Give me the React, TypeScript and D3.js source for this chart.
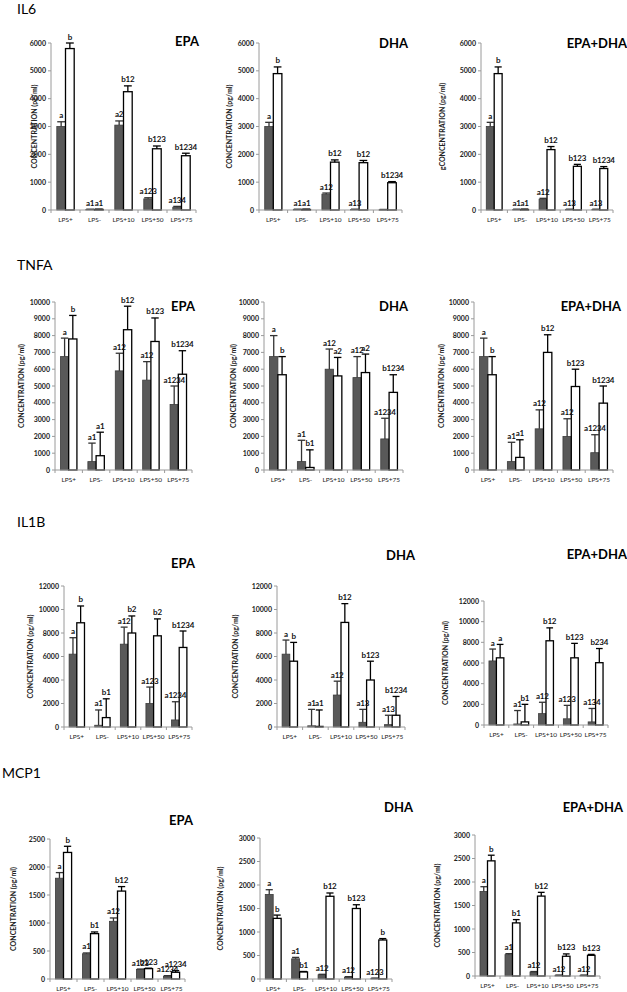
import React from "react";
import * as d3 from "d3";

// ---------- DATA ----------
const categories = ["LPS+", "LPS-", "LPS+10", "LPS+50", "LPS+75"];
const rowTitles = ["IL6", "TNFA", "IL1B", "MCP1"];
const treatmentTitles = ["EPA", "DHA", "EPA+DHA"];
const yLabelText = "CONCENTRATION (pg/ml)";
const yLabelTypo = "gCONCENTRATION (pg/ml)";

const il6Ticks = [0, 1000, 2000, 3000, 4000, 5000, 6000];
const tnfaTicks = [0, 1000, 2000, 3000, 4000, 5000, 6000, 7000, 8000, 9000, 10000];
const il1bTicks = [0, 2000, 4000, 6000, 8000, 10000, 12000];
const mcp1EpaTicks = [0, 500, 1000, 1500, 2000, 2500];
const mcp1Ticks = [0, 500, 1000, 1500, 2000, 2500, 3000];

// IL6
const il6EpaGrey = [3000, 20, 3050, 400, 100];
const il6EpaGreyErr = [170, 10, 150, 40, 30];
const il6EpaWhite = [5800, 20, 4250, 2200, 1950];
const il6EpaWhiteErr = [200, 10, 210, 100, 90];
const il6EpaGreyLbl = ["a", "a1", "a2", "a123", "a134"];
const il6EpaWhiteLbl = ["b", "a1", "b12", "b123", "b1234"];

const il6DhaGrey = [3000, 20, 570, 20, 10];
const il6DhaGreyErr = [150, 10, 40, 10, 10];
const il6DhaWhite = [4900, 20, 1720, 1700, 980];
const il6DhaWhiteErr = [240, 10, 80, 80, 40];
const il6DhaGreyLbl = ["a", "a1", "a12", "a13", ""];
const il6DhaWhiteLbl = ["b", "a1", "b12", "b12", "b1234"];

const il6MixGrey = [3000, 20, 390, 20, 20];
const il6MixGreyErr = [150, 10, 30, 10, 10];
const il6MixWhite = [4900, 20, 2170, 1570, 1490];
const il6MixWhiteErr = [240, 10, 110, 70, 70];
const il6MixGreyLbl = ["a", "a1", "a12", "a13", "a13"];
const il6MixWhiteLbl = ["b", "a1", "b12", "b123", "b1234"];

// TNFA
const tnfaEpaGrey = [6750, 500, 5900, 5350, 3900];
const tnfaEpaGreyErr = [1100, 1100, 1050, 1100, 1100];
const tnfaEpaWhite = [7800, 850, 8350, 7650, 5700];
const tnfaEpaWhiteErr = [1400, 1400, 1400, 1400, 1400];
const tnfaEpaGreyLbl = ["a", "a1", "a12", "a12", "a1234"];
const tnfaEpaWhiteLbl = ["b", "a1", "b12", "b123", "b1234"];

const tnfaDhaGrey = [6750, 500, 6000, 5500, 1850];
const tnfaDhaGreyErr = [1250, 1270, 1200, 1250, 1230];
const tnfaDhaWhite = [5670, 150, 5600, 5800, 4620];
const tnfaDhaWhiteErr = [1080, 1050, 1100, 1100, 1050];
const tnfaDhaGreyLbl = ["a", "a1", "a12", "a12", "a1234"];
const tnfaDhaWhiteLbl = ["b", "b1", "a2", "a2", "b1234"];

const tnfaMixGrey = [6750, 500, 2450, 2000, 1030];
const tnfaMixGreyErr = [1100, 1150, 1130, 1050, 1070];
const tnfaMixWhite = [5670, 750, 7000, 4970, 3980];
const tnfaMixWhiteErr = [1080, 1050, 1050, 1030, 1020];
const tnfaMixGreyLbl = ["a", "a1", "a12", "a12", "a1234"];
const tnfaMixWhiteLbl = ["b", "a1", "b12", "b123", "b1234"];

// IL1B
const il1bEpaGrey = [6200, 150, 7050, 2000, 600];
const il1bEpaGreyErr = [1400, 1300, 1450, 1400, 1550];
const il1bEpaWhite = [8870, 800, 8000, 7760, 6770];
const il1bEpaWhiteErr = [1430, 1600, 1450, 1440, 1400];
const il1bEpaGreyLbl = ["a", "a1", "a12", "a123", "a1234"];
const il1bEpaWhiteLbl = ["b", "b1", "b2", "b2", "b1234"];

const il1bDhaGrey = [6200, 100, 2720, 400, 200];
const il1bDhaGreyErr = [1200, 1400, 1180, 1100, 800];
const il1bDhaWhite = [5600, 50, 8900, 4000, 1000];
const il1bDhaWhiteErr = [1600, 1400, 1600, 1600, 1600];
const il1bDhaGreyLbl = ["a", "a1", "a12", "a13", "a13"];
const il1bDhaWhiteLbl = ["b", "a1", "b12", "b123", "b1234"];

const il1bMixGrey = [6200, 100, 1100, 600, 300];
const il1bMixGreyErr = [1150, 1300, 1100, 1300, 1300];
const il1bMixWhite = [6500, 300, 8150, 6500, 6030];
const il1bMixWhiteErr = [1300, 1700, 1250, 1400, 1370];
const il1bMixGreyLbl = ["a", "a1", "a12", "a123", "a134"];
const il1bMixWhiteLbl = ["a", "b1", "b12", "b123", "b234"];

// MCP1
const mcp1EpaGrey = [1800, 450, 1030, 170, 50];
const mcp1EpaGreyErr = [100, 15, 60, 8, 10];
const mcp1EpaWhite = [2260, 810, 1570, 185, 120];
const mcp1EpaWhiteErr = [110, 30, 80, 8, 30];
const mcp1EpaGreyLbl = ["a", "a1", "a12", "a123", "a1234"];
const mcp1EpaWhiteLbl = ["b", "b1", "b12", "b123", "a1234"];

const mcp1DhaGrey = [1800, 430, 90, 40, 15];
const mcp1DhaGreyErr = [100, 30, 10, 10, 5];
const mcp1DhaWhite = [1290, 150, 1760, 1500, 830];
const mcp1DhaWhiteErr = [70, 10, 70, 80, 30];
const mcp1DhaGreyLbl = ["a", "a1", "a12", "a12", "a123"];
const mcp1DhaWhiteLbl = ["b", "b1", "b12", "b123", "b"];

const mcp1MixGrey = [1800, 455, 85, 15, 15];
const mcp1MixGreyErr = [100, 20, 10, 5, 5];
const mcp1MixWhite = [2450, 1130, 1700, 420, 440];
const mcp1MixWhiteErr = [120, 70, 80, 50, 20];
const mcp1MixGreyLbl = ["a", "a1", "a12", "a12", "a12"];
const mcp1MixWhiteLbl = ["b", "b1", "b12", "b123", "b123"];

// ---------- PANEL TABLE (built from the arrays) ----------
const panelData = [
  { row: 0, col: 0, ticks: il6Ticks, grey: il6EpaGrey, greyErr: il6EpaGreyErr, white: il6EpaWhite, whiteErr: il6EpaWhiteErr, greyLbl: il6EpaGreyLbl, whiteLbl: il6EpaWhiteLbl, ylab: yLabelText },
  { row: 0, col: 1, ticks: il6Ticks, grey: il6DhaGrey, greyErr: il6DhaGreyErr, white: il6DhaWhite, whiteErr: il6DhaWhiteErr, greyLbl: il6DhaGreyLbl, whiteLbl: il6DhaWhiteLbl, ylab: yLabelText },
  { row: 0, col: 2, ticks: il6Ticks, grey: il6MixGrey, greyErr: il6MixGreyErr, white: il6MixWhite, whiteErr: il6MixWhiteErr, greyLbl: il6MixGreyLbl, whiteLbl: il6MixWhiteLbl, ylab: yLabelTypo },
  { row: 1, col: 0, ticks: tnfaTicks, grey: tnfaEpaGrey, greyErr: tnfaEpaGreyErr, white: tnfaEpaWhite, whiteErr: tnfaEpaWhiteErr, greyLbl: tnfaEpaGreyLbl, whiteLbl: tnfaEpaWhiteLbl, ylab: yLabelText },
  { row: 1, col: 1, ticks: tnfaTicks, grey: tnfaDhaGrey, greyErr: tnfaDhaGreyErr, white: tnfaDhaWhite, whiteErr: tnfaDhaWhiteErr, greyLbl: tnfaDhaGreyLbl, whiteLbl: tnfaDhaWhiteLbl, ylab: yLabelText },
  { row: 1, col: 2, ticks: tnfaTicks, grey: tnfaMixGrey, greyErr: tnfaMixGreyErr, white: tnfaMixWhite, whiteErr: tnfaMixWhiteErr, greyLbl: tnfaMixGreyLbl, whiteLbl: tnfaMixWhiteLbl, ylab: yLabelText },
  { row: 2, col: 0, ticks: il1bTicks, grey: il1bEpaGrey, greyErr: il1bEpaGreyErr, white: il1bEpaWhite, whiteErr: il1bEpaWhiteErr, greyLbl: il1bEpaGreyLbl, whiteLbl: il1bEpaWhiteLbl, ylab: yLabelText },
  { row: 2, col: 1, ticks: il1bTicks, grey: il1bDhaGrey, greyErr: il1bDhaGreyErr, white: il1bDhaWhite, whiteErr: il1bDhaWhiteErr, greyLbl: il1bDhaGreyLbl, whiteLbl: il1bDhaWhiteLbl, ylab: yLabelText },
  { row: 2, col: 2, ticks: il1bTicks, grey: il1bMixGrey, greyErr: il1bMixGreyErr, white: il1bMixWhite, whiteErr: il1bMixWhiteErr, greyLbl: il1bMixGreyLbl, whiteLbl: il1bMixWhiteLbl, ylab: yLabelText },
  { row: 3, col: 0, ticks: mcp1EpaTicks, grey: mcp1EpaGrey, greyErr: mcp1EpaGreyErr, white: mcp1EpaWhite, whiteErr: mcp1EpaWhiteErr, greyLbl: mcp1EpaGreyLbl, whiteLbl: mcp1EpaWhiteLbl, ylab: yLabelText },
  { row: 3, col: 1, ticks: mcp1Ticks, grey: mcp1DhaGrey, greyErr: mcp1DhaGreyErr, white: mcp1DhaWhite, whiteErr: mcp1DhaWhiteErr, greyLbl: mcp1DhaGreyLbl, whiteLbl: mcp1DhaWhiteLbl, ylab: yLabelText },
  { row: 3, col: 2, ticks: mcp1Ticks, grey: mcp1MixGrey, greyErr: mcp1MixGreyErr, white: mcp1MixWhite, whiteErr: mcp1MixWhiteErr, greyLbl: mcp1MixGreyLbl, whiteLbl: mcp1MixWhiteLbl, ylab: yLabelText },
];

// ---------- LAYOUT (pixel frames, same order as panelData) ----------
const frames = [
  { x0: 51, x1: 196, y0: 210, yTop: 43, tx: 199, ty: 46, lx: 34 },
  { x0: 259, x1: 402, y0: 210, yTop: 43, tx: 408, ty: 48, lx: 229 },
  { x0: 481, x1: 613, y0: 210, yTop: 43, tx: 627, ty: 48, lx: 442 },
  { x0: 55, x1: 192, y0: 470, yTop: 302, tx: 195, ty: 311, lx: 21 },
  { x0: 264, x1: 403, y0: 470, yTop: 302, tx: 408, ty: 311, lx: 233 },
  { x0: 474, x1: 613, y0: 470, yTop: 302, tx: 621, ty: 311, lx: 441 },
  { x0: 64, x1: 192, y0: 727, yTop: 586, tx: 195, ty: 568, lx: 30 },
  { x0: 277, x1: 405, y0: 727, yTop: 586, tx: 415, ty: 560, lx: 235 },
  { x0: 484, x1: 608, y0: 725, yTop: 601, tx: 627, ty: 559, lx: 445 },
  { x0: 50, x1: 185, y0: 979, yTop: 839, tx: 193, ty: 825, lx: 13 },
  { x0: 260, x1: 392, y0: 979, yTop: 838, tx: 413, ty: 812, lx: 220 },
  { x0: 475, x1: 600, y0: 976, yTop: 835, tx: 623, ty: 812, lx: 437 },
];
const rowTitlePos = [
  { x: 17, y: 14 },
  { x: 17, y: 270 },
  { x: 17, y: 527 },
  { x: 2, y: 778 },
];

const FONT = "Lato, 'Open Sans', Arial, sans-serif";
const AXIS = "#9a9a9a";
const GREY = "#595959";

function Panel({ d, f }: any) {
  const max = d.ticks[d.ticks.length - 1];
  const x = d3.scaleBand<string>().domain(categories).range([f.x0, f.x1]);
  const bw = x.bandwidth();
  const sub = d3.scaleBand<string>().domain(["grey", "white"]).range([bw * 0.2, bw * 0.8]);
  const sw = sub.bandwidth();
  const y = d3.scaleLinear().domain([0, max]).range([f.y0, f.yTop]);
  const series = [
    { key: "grey", vals: d.grey, errs: d.greyErr, lbls: d.greyLbl, fill: GREY, stroke: "#3c3c3c", err: "#333" },
    { key: "white", vals: d.white, errs: d.whiteErr, lbls: d.whiteLbl, fill: "#ffffff", stroke: "#000", err: "#000" },
  ];
  const midY = (f.y0 + f.yTop) / 2;
  const geo = (s: any, c: string, i: number) => {
    const bx = (x(c) as number) + (sub(s.key) as number);
    const v = s.vals[i];
    return { bx, top: y(v), et: y(v + s.errs[i]), cx: bx + sw / 2 };
  };
  return (
    <g>
      {/* y axis */}
      <line x1={f.x0} x2={f.x0} y1={f.yTop} y2={f.y0} stroke={AXIS} strokeWidth={1} />
      {d.ticks.map((t: number) => (
        <g key={t}>
          <line x1={f.x0 - 3} x2={f.x0} y1={y(t)} y2={y(t)} stroke={AXIS} />
          <text x={f.x0 - 5} y={y(t) + 2.5} fontSize={7} fontWeight="bold" textAnchor="end" fontFamily={FONT} fill="#222">
            {t}
          </text>
        </g>
      ))}
      <text
        transform={`translate(${f.lx + 2.5},${midY}) rotate(-90)`}
        fontSize={7}
        fontWeight="bold"
        textAnchor="middle"
        fontFamily={FONT}
        fill="#222"
      >
        {d.ylab}
      </text>
      {/* bars + error bars */}
      {series.map((s) =>
        categories.map((c, i) => {
          const g = geo(s, c, i);
          return (
            <g key={s.key + c}>
              <rect x={g.bx} y={g.top} width={sw} height={Math.max(0.5, f.y0 - g.top)} fill={s.fill} stroke={s.stroke} strokeWidth={s.key === "white" ? 1.3 : 0.8} />
              <line x1={g.cx} x2={g.cx} y1={g.top} y2={g.et} stroke={s.err} strokeWidth={1.3} />
              <line x1={g.cx - sw * 0.45} x2={g.cx + sw * 0.45} y1={g.et} y2={g.et} stroke={s.err} strokeWidth={1.3} />
            </g>
          );
        })
      )}
      {/* x axis */}
      <line x1={f.x0} x2={f.x1} y1={f.y0} y2={f.y0} stroke={AXIS} strokeWidth={1} />
      {d3.range(categories.length + 1).map((k) => {
        const xx = f.x0 + k * bw;
        return <line key={k} x1={xx} x2={xx} y1={f.y0} y2={f.y0 + 3} stroke={AXIS} />;
      })}
      {categories.map((c) => (
        <text key={c} x={(x(c) as number) + bw / 2} y={f.y0 + 12} fontSize={6.5} textAnchor="middle" fontFamily={FONT} fill="#222">
          {c}
        </text>
      ))}
      {/* significance labels, on top of every bar */}
      {series.map((s) =>
        categories.map((c, i) => {
          const g = geo(s, c, i);
          return s.lbls[i] ? (
            <text key={"l" + s.key + c} x={g.cx} y={g.et - 3.5} fontSize={8} letterSpacing={-0.2} fontWeight="bold" textAnchor="middle" fontFamily={FONT} fill="#111">
              {s.lbls[i]}
            </text>
          ) : null;
        })
      )}
      {/* title */}
      <text x={f.tx} y={f.ty} fontSize={13} fontWeight="bold" textAnchor="end" fontFamily={FONT} fill="#000">
        {treatmentTitles[d.col]}
      </text>
    </g>
  );
}

export default function App() {
  return (
    <svg
      width={627}
      height={992}
      style={{ position: "absolute", left: 0, top: 0, background: "#fff" }}
    >
      <rect x={0} y={0} width={627} height={992} fill="#fff" />
      {rowTitles.map((t, i) => (
        <text key={t} x={rowTitlePos[i].x} y={rowTitlePos[i].y} fontSize={14} fontFamily={FONT} fill="#000">
          {t}
        </text>
      ))}
      {panelData.map((d, i) => (
        <Panel key={i} d={d} f={frames[i]} />
      ))}
    </svg>
  );
}
